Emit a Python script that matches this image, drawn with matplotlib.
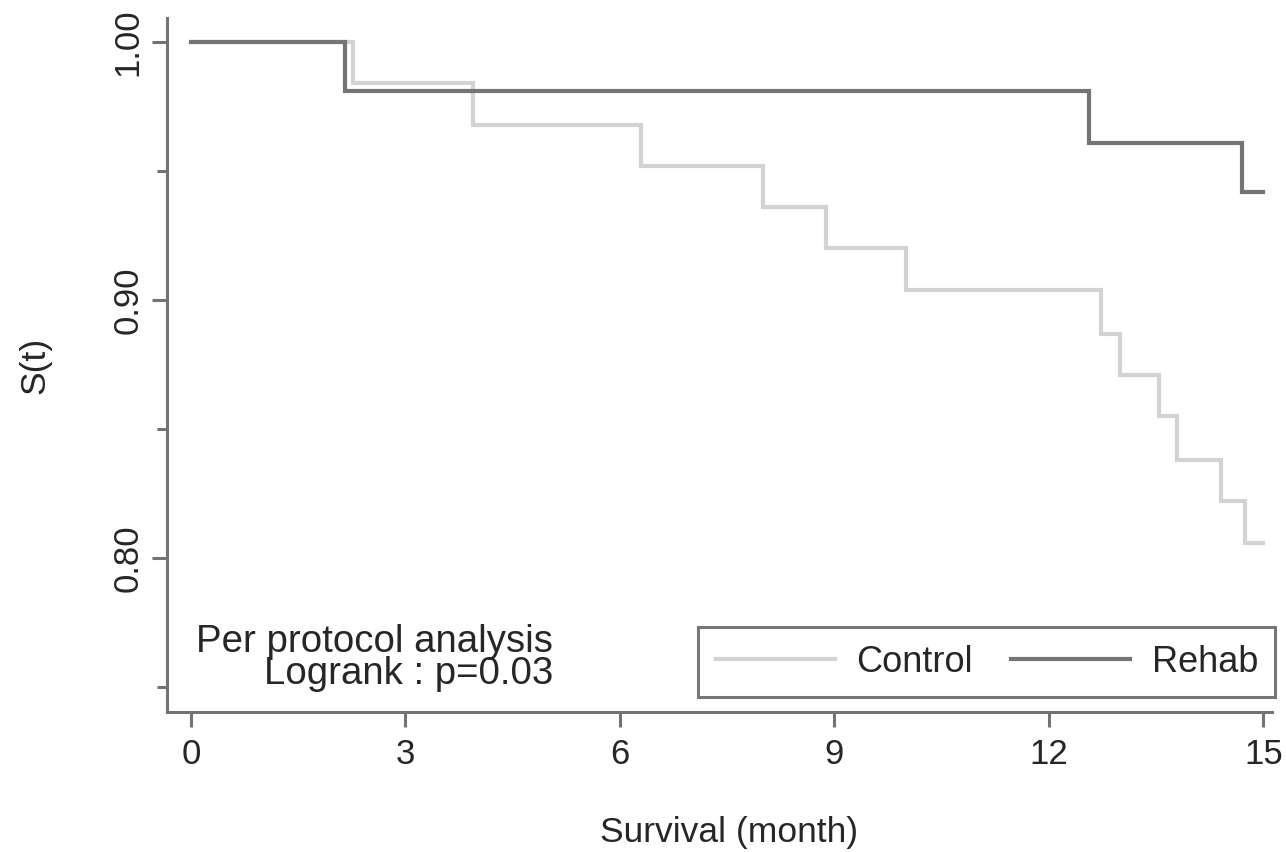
import matplotlib
matplotlib.use("Agg")
import matplotlib.pyplot as plt
from matplotlib.ticker import FixedLocator

plt.rcParams['font.family'] = ['Liberation Sans', 'DejaVu Sans']

# Kaplan-Meier step data (time in months, survival)
control_t = [0, 2.27, 3.94, 6.29, 8.0, 8.88, 10.0, 12.73, 12.99, 13.54, 13.79, 14.4, 14.74, 15.0]
control_s = [1.0, 0.984, 0.968, 0.952, 0.936, 0.920, 0.904, 0.887, 0.871, 0.855, 0.838, 0.822, 0.806, 0.806]
rehab_t = [0, 2.15, 12.56, 14.70, 15.0]
rehab_s = [1.0, 0.981, 0.961, 0.942, 0.942]

x_ticks = [0, 3, 6, 9, 12, 15]
y_ticks = [0.80, 0.90, 1.00]
y_minor = [0.75, 0.85, 0.95]
y_ticklabels = ["0.80", "0.90", "1.00"]

control_color = "#d3d3d3"
rehab_color = "#747474"
axis_color = "#737373"
text_color = "#262626"

fig = plt.figure(figsize=(12.86, 8.52), dpi=100)
ax = fig.add_axes([0.1296, 0.1643, 0.8595, 0.8146])

ax.step(control_t, control_s, where='post', color=control_color, lw=3.0, label='Control', solid_joinstyle='miter')
ax.step(rehab_t, rehab_s, where='post', color=rehab_color, lw=3.0, label='Rehab', solid_joinstyle='miter')

ax.set_xlim(-0.34, 15.12)
ax.set_ylim(0.7403, 1.0093)

for s in ['top', 'right']:
    ax.spines[s].set_visible(False)
for s in ['left', 'bottom']:
    ax.spines[s].set_color(axis_color)
    ax.spines[s].set_linewidth(2.2)

ax.set_xticks(x_ticks)
ax.set_xticklabels([str(v) for v in x_ticks])
ax.set_yticks(y_ticks)
ax.set_yticklabels(y_ticklabels, rotation=90, va='center')
ax.yaxis.set_minor_locator(FixedLocator(y_minor))
ax.tick_params(axis='both', which='major', length=11, width=2.2, color=axis_color,
               labelsize=25, labelcolor=text_color)
ax.tick_params(axis='x', pad=8)
ax.tick_params(axis='y', pad=5)
ax.tick_params(axis='y', which='minor', length=7, width=2.2, color=axis_color)

ax.set_xlabel("Survival (month)", fontsize=25.5, color=text_color, va='center')
ax.xaxis.set_label_coords(0.509, -0.174)
ax.set_ylabel("S(t)", fontsize=25.5, color=text_color, labelpad=43)

ax.text(0.3495, 0.0778, "Per protocol analysis\nLogrank : p=0.03", transform=ax.transAxes,
        ha='right', va='center', multialignment='right', fontsize=27.6, color=text_color,
        linespacing=0.86)

leg = ax.legend(loc='lower right', bbox_to_anchor=(1.003, 0.0216),
                ncol=2, fontsize=26, frameon=True, fancybox=False, borderaxespad=0,
                handlelength=3.3, handletextpad=0.6, columnspacing=1.05, borderpad=0.48)
leg.get_frame().set_edgecolor("#555555")
leg.get_frame().set_linewidth(2.2)
for t in leg.get_texts():
    t.set_color(text_color)

fig.savefig("out.png", dpi=100, facecolor='white')
